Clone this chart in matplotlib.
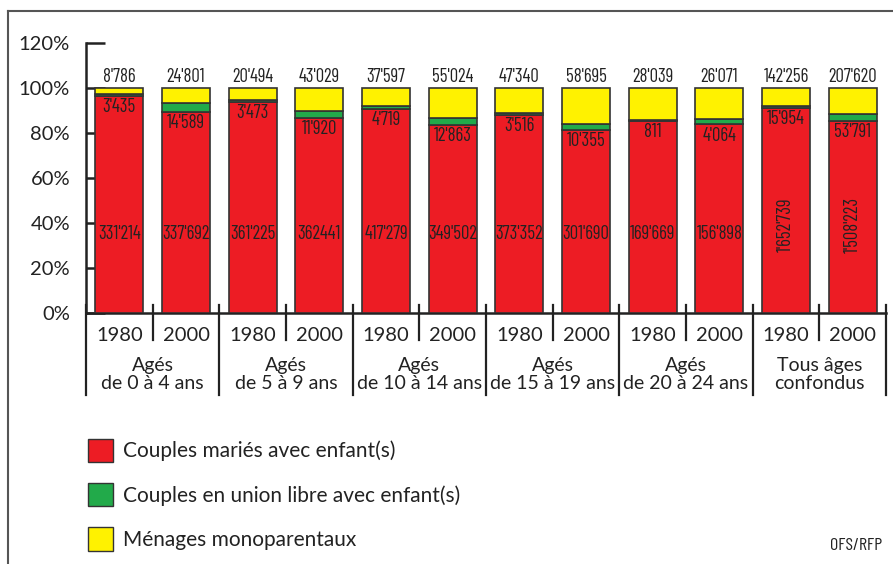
import matplotlib.pyplot as plt
from matplotlib.lines import Line2D
from matplotlib.patches import Patch

# data (absolute counts)
years = ["1980", "2000"] * 6
groups = ["Agés\nde 0 à 4 ans", "Agés\nde 5 à 9 ans", "Agés\nde 10 à 14 ans",
          "Agés\nde 15 à 19 ans", "Agés\nde 20 à 24 ans", "Tous âges\nconfondus"]
maries = [331214, 337692, 361225, 362441, 417279, 349502,
          373352, 301690, 169669, 156898, 1652739, 1508223]
union_libre = [3435, 14589, 3473, 11920, 4719, 12863,
               3516, 10355, 811, 4064, 15954, 53791]
monoparentaux = [8786, 24801, 20494, 43029, 37597, 55024,
                 47340, 58695, 28039, 26071, 142256, 207620]
maries_lbl = ["331'214", "337'692", "361'225", "362441", "417'279", "349'502",
              "373'352", "301'690", "169'669", "156'898", "1'652'739", "1'508'223"]
union_lbl = ["3'435", "14'589", "3'473", "11'920", "4'719", "12'863",
             "3'516", "10'355", "811", "4'064", "15'954", "53'791"]
mono_lbl = ["8'786", "24'801", "20'494", "43'029", "37'597", "55'024",
            "47'340", "58'695", "28'039", "26'071", "142'256", "207'620"]
legend_labels = ["Couples mariés avec enfant(s)",
                 "Couples en union libre avec enfant(s)",
                 "Ménages monoparentaux"]

RED, GREEN, YELLOW = "#ED1C24", "#22AA4A", "#FFF200"
EDGE = "#333333"
FONT = ["Lato", "DejaVu Sans"]
NARROW = ["Barlow Condensed", "DejaVu Sans"]
INK = "#222222"
LBL = 13.5

tot = [a + b + c for a, b, c in zip(maries, union_libre, monoparentaux)]
p_red = [100 * a / t for a, t in zip(maries, tot)]
p_green = [100 * b / t for b, t in zip(union_libre, tot)]
p_yel = [100 * c / t for c, t in zip(monoparentaux, tot)]

fig = plt.figure(figsize=(8.93, 5.64), dpi=100)
ax = fig.add_axes([86 / 893, 1 - 313 / 564, 800 / 893, 270 / 564])

x = list(range(len(years)))
w = 0.72
ax.bar(x, p_red, w, color=RED, edgecolor=EDGE, lw=1.2, zorder=3)
ax.bar(x, p_green, w, bottom=p_red, color=GREEN, edgecolor=EDGE, lw=1.2, zorder=3)
bot = [a + b for a, b in zip(p_red, p_green)]
ax.bar(x, p_yel, w, bottom=bot, color=YELLOW, edgecolor=EDGE, lw=1.2, zorder=3)

for i in x:
    ax.text(i, 101.0, mono_lbl[i], ha="center", va="bottom", fontsize=LBL,
            family=NARROW, color=INK, zorder=4)
    ax.text(i, p_red[i] - 1.0, union_lbl[i], ha="center", va="top", fontsize=LBL,
            family=NARROW, color=INK, zorder=4)
    if i >= 10:
        ax.text(i, 39, maries_lbl[i], ha="center", va="center", fontsize=LBL,
                family=NARROW, rotation=90, color=INK, zorder=4)
    else:
        ax.text(i, 35, maries_lbl[i], ha="center", va="center", fontsize=LBL,
                family=NARROW, color=INK, zorder=4)

ax.set_xlim(-0.5, 11.5)
ax.set_ylim(0, 120)
ax.set_yticks(range(0, 121, 20))
ax.set_yticklabels([f"{v}%" for v in range(0, 121, 20)], family=FONT,
                   fontsize=14.5, color=INK)
ax.tick_params(axis="y", direction="in", length=14, width=1.8, pad=11.5,
               color=INK)
ax.set_xticks([])
for s in ["top", "right"]:
    ax.spines[s].set_visible(False)
for s in ["left", "bottom"]:
    ax.spines[s].set_linewidth(1.8)
    ax.spines[s].set_color(INK)

# x-axis category lines and labels
for g in range(6):
    ax.plot([2 * g - 0.5] * 2, [3.5, -36.4], color=INK, lw=1.6,
            clip_on=False, zorder=5)
    ax.plot([2 * g + 0.5] * 2, [3.5, -12], color=INK, lw=1.6,
            clip_on=False, zorder=5)
    ax.text(2 * g + 0.5, -27.2, groups[g], ha="center", va="center",
            fontsize=14, family=FONT, linespacing=1.05, color=INK)
ax.plot([11.5] * 2, [3.5, -36.4], color=INK, lw=1.6, clip_on=False, zorder=5)
for i in x:
    ax.text(i, -10.0, years[i], ha="center", va="center", fontsize=14.5,
            family=FONT, color=INK)

# legend
handles = [Patch(facecolor=c, edgecolor=EDGE, lw=1.0) for c in (RED, GREEN, YELLOW)]
fig.legend(handles, legend_labels, loc="upper left",
           bbox_to_anchor=(69 / 893, 1 - 420 / 564), frameon=False,
           prop={"family": FONT, "size": 15}, handlelength=1.2,
           handleheight=1.35, handletextpad=0.5, labelspacing=1.0,
           labelcolor=INK)

fig.text(882 / 893, 1 - 546 / 564, "OFS/RFP", ha="right", va="center",
         fontsize=13, family=NARROW, color=INK)

# outer frame
fig.add_artist(Line2D([8 / 893, 8 / 893], [0, 1 - 11 / 564], color="#555", lw=1.5))
fig.add_artist(Line2D([8 / 893, 1], [1 - 11 / 564] * 2, color="#555", lw=1.5))

fig.savefig("out.png", dpi=100)
